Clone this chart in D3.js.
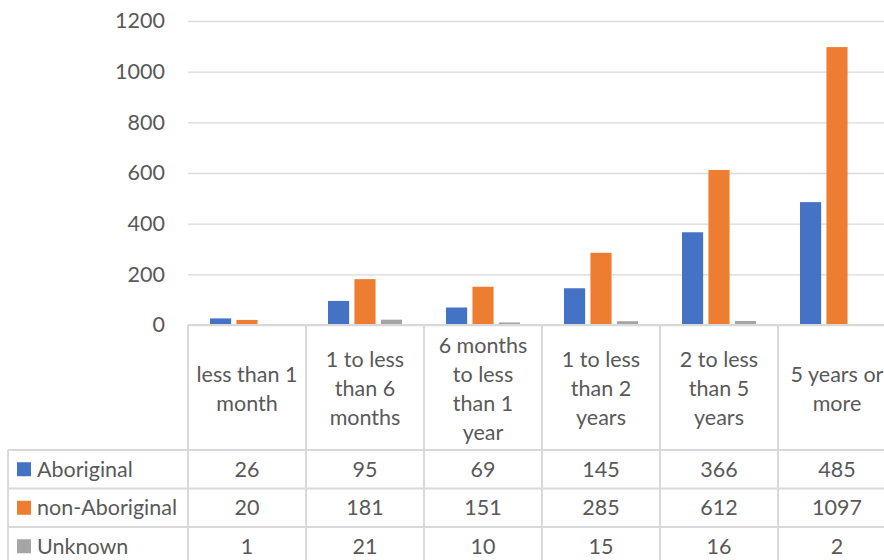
<!DOCTYPE html>
<html>
<head>
<meta charset="utf-8">
<script src="https://cdn.jsdelivr.net/npm/d3@7/dist/d3.min.js"></script>
<style>
  html, body { margin: 0; padding: 0; background: #fff; overflow: hidden; }
  svg { display: block; }
  text { font-family: Lato, "Open Sans", sans-serif; fill: #595959; }
</style>
</head>
<body>
<svg id="chart" width="884" height="560"></svg>
<script>
// Duration categories (line breaks mark where the header cell wraps)
const categories = [
  "less than 1\nmonth",
  "1 to less\nthan 6\nmonths",
  "6 months\nto less\nthan 1\nyear",
  "1 to less\nthan 2\nyears",
  "2 to less\nthan 5\nyears",
  "5 years or\nmore"
];
const seriesNames = ["Aboriginal", "non-Aboriginal", "Unknown"];
const aboriginal    = [26, 95, 69, 145, 366, 485];
const nonAboriginal = [20, 181, 151, 285, 612, 1097];
const unknown       = [1, 21, 10, 15, 16, 2];
const yTicks = [0, 200, 400, 600, 800, 1000, 1200];

const seriesValues = [aboriginal, nonAboriginal, unknown];
const colors = ["#4472C4", "#ED7D31", "#A5A5A5"];
const gridColor = "#D9D9D9";

const svg = d3.select("#chart");

const plotLeft = 188, plotRight = 896, plotTop = 21, plotBottom = 325;
const headerBottom = 450, rowH = 38.5, tableLeft = 8;
const fontSize = 21.5;

const x0 = d3.scaleBand().domain(d3.range(categories.length)).range([plotLeft, plotRight]);
const x1 = d3.scaleBand().domain(d3.range(seriesNames.length))
  .range([22, x0.bandwidth() - 22]).paddingInner(0.2);
const y = d3.scaleLinear().domain([0, 1200]).range([plotBottom, plotTop]);

// Gridlines and value axis labels
const yAxis = d3.axisLeft(y).tickValues(yTicks).tickFormat(d3.format("d"))
  .tickSize(-(plotRight - plotLeft)).tickPadding(23);
const ga = svg.append("g").attr("transform", `translate(${plotLeft},0)`).call(yAxis);
ga.select(".domain").remove();
ga.selectAll(".tick line").attr("stroke", gridColor).attr("stroke-width", 1.3);
ga.selectAll(".tick text").attr("font-size", fontSize).attr("fill", "#595959")
  .attr("font-family", "Lato, 'Open Sans', sans-serif");

// Bars
const groups = svg.append("g").selectAll("g")
  .data(categories.map((c, i) => i))
  .join("g")
  .attr("transform", i => `translate(${x0(i)},0)`);
groups.selectAll("rect")
  .data(i => seriesValues.map((vals, s) => ({ s, v: vals[i] })))
  .join("rect")
  .attr("x", d => x1(d.s))
  .attr("width", x1.bandwidth())
  .attr("y", d => y(d.v))
  .attr("height", d => y(0) - y(d.v))
  .attr("fill", d => colors[d.s]);

// Data table
const tableBottom = headerBottom + rowH * seriesNames.length;
const lines = svg.append("g").attr("stroke", gridColor).attr("stroke-width", 2);
// axis / header top line
lines.append("line").attr("x1", plotLeft).attr("x2", plotRight).attr("y1", plotBottom).attr("y2", plotBottom);
// row separators
for (let r = 0; r <= seriesNames.length; r++) {
  const yy = headerBottom + r * rowH;
  lines.append("line").attr("x1", tableLeft).attr("x2", plotRight).attr("y1", yy).attr("y2", yy);
}
lines.append("line").attr("x1", tableLeft).attr("x2", tableLeft).attr("y1", headerBottom).attr("y2", tableBottom);
for (let i = 0; i <= categories.length; i++) {
  const xx = plotLeft + i * x0.step();
  lines.append("line").attr("x1", xx).attr("x2", xx).attr("y1", plotBottom).attr("y2", tableBottom);
}

// Header labels
const lineH = 29;
const headerMid = (plotBottom + headerBottom) / 2 + 1;
categories.forEach((c, i) => {
  const parts = c.split("\n");
  const t = svg.append("text")
    .attr("text-anchor", "middle")
    .attr("font-size", fontSize)
    .attr("x", x0(i) + x0.bandwidth() / 2);
  parts.forEach((p, k) => {
    t.append("tspan")
      .attr("x", x0(i) + x0.bandwidth() / 2)
      .attr("y", headerMid + (k - (parts.length - 1) / 2) * lineH)
      .attr("dy", "0.35em")
      .text(p);
  });
});

// Legend cells and values
seriesNames.forEach((name, s) => {
  const cy = headerBottom + s * rowH + rowH / 2;
  svg.append("rect").attr("x", 17).attr("y", cy - 7).attr("width", 14).attr("height", 14).attr("fill", colors[s]);
  svg.append("text").attr("x", 37).attr("y", cy).attr("dy", "0.35em")
    .attr("font-size", fontSize).text(name);
  seriesValues[s].forEach((v, i) => {
    svg.append("text").attr("x", x0(i) + x0.bandwidth() / 2).attr("y", cy).attr("dy", "0.35em")
      .attr("text-anchor", "middle").attr("font-size", fontSize).text(v);
  });
});
</script>
</body>
</html>
